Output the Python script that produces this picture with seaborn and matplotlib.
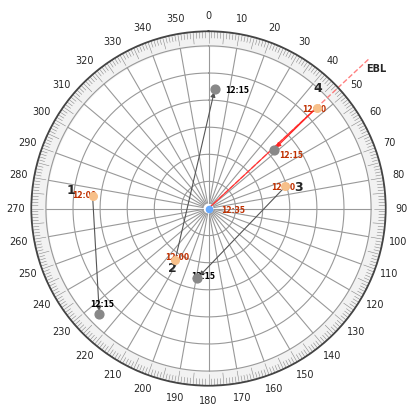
import numpy as np
import matplotlib
matplotlib.use("Agg")
import matplotlib.pyplot as plt
import seaborn as sns

sns.set_theme(style="white")
plt.rcParams['font.family'] = ['DejaVu Sans']

names = ["1", "2", "3", "4"]
brg_1200 = [276, 213, 74, 47]
rng_1200 = [8.6, 4.5, 5.9, 10.9]
brg_1215 = [226, 189, 3, 48]
rng_1215 = [11.2, 5.2, 8.8, 6.5]
track_from = [0, 1, 2, 3]
track_to = [0, 2, 1, 3]
ebl_bearing = 47
bearing_labels = list(range(0, 360, 10))

fig = plt.figure(figsize=(4.17, 4.17), dpi=100)
ax = fig.add_axes([0.075, 0.075, 0.85, 0.85], projection="polar")
ax.set_theta_zero_location("N")
ax.set_theta_direction(-1)
R = 12
ax.set_ylim(0, R * 1.09)
ax.set_yticks(np.arange(2, R + 0.1, 2))
ax.set_yticklabels([])
ax.set_xticks(np.radians(bearing_labels))
ax.set_xticklabels([str(b) for b in bearing_labels], fontsize=7)
ax.tick_params(axis="x", pad=-2)
ax.grid(False)
ax.spines["polar"].set_color("#444")

th = np.linspace(0, 2 * np.pi, 400)
for r in np.arange(2, R + 0.1, 2):
    ax.plot(th, np.full_like(th, r), color="#999", lw=0.8)
for b in range(0, 360, 10):
    ax.plot([np.radians(b)] * 2, [0.4, R], color="#999", lw=0.8)
ax.fill_between(th, R, R * 1.09, color="#f2f2f2")
ax.plot(th, np.full_like(th, R * 1.09), color="#555", lw=1)
for b in range(0, 360, 1):
    L = 0.5 if b % 5 else 0.9
    ax.plot([np.radians(b)] * 2, [R * 1.09 - L, R * 1.09], color="#888", lw=0.4)

t = np.radians
ax.plot([t(ebl_bearing)] * 2, [0, R * 1.35], color="#ff8080", lw=1, ls="--", clip_on=False)
ax.text(t(ebl_bearing + 4), R * 1.33, "EBL", fontsize=7, fontweight="bold", ha="center")
ax.plot([t(brg_1200[3]), 0], [rng_1200[3], 0], color="#ff3030", lw=0.8)

for i, (a, b) in enumerate(zip(track_from, track_to)):
    col = "#ff2020" if i == 3 else "#555"
    ax.annotate("", xy=(t(brg_1215[b]), rng_1215[b]), xytext=(t(brg_1200[a]), rng_1200[a]),
                arrowprops=dict(arrowstyle="-|>", color=col, lw=0.8, mutation_scale=7))

ax.scatter(t(np.array(brg_1200)), rng_1200, s=30, marker="o", color="#f7c08a", zorder=5)
ax.scatter(t(np.array(brg_1215)), rng_1215, s=40, marker="o", color="#888", zorder=5)
num_off = [(0, 1.6), (-3, 0.9), (5, 0.9), (-4, 0.9)]
for i, n in enumerate(names):
    db, dr = num_off[i]
    ax.text(t(brg_1200[i] + db), rng_1200[i] + dr, n, fontsize=9, fontweight="bold", ha="center")
    ax.text(t(brg_1200[i]), rng_1200[i] + 0.6 if i == 0 else rng_1200[i] - 0.2, "12:00",
            fontsize=5.5, color="#c03000", fontweight="bold", ha="center", va="center")
    ax.text(t(brg_1215[i] + 5), rng_1215[i], "12:15", fontsize=5.5, ha="left", va="center",
            color="#c03000" if i == 3 else "black", fontweight="bold")
ax.scatter([0], [0], s=20, marker="o", color="#66aaff", zorder=6)
ax.text(t(110), 1.0, "12:35", fontsize=5.5, color="#c03000", fontweight="bold")

fig.savefig("out.png", dpi=100)
